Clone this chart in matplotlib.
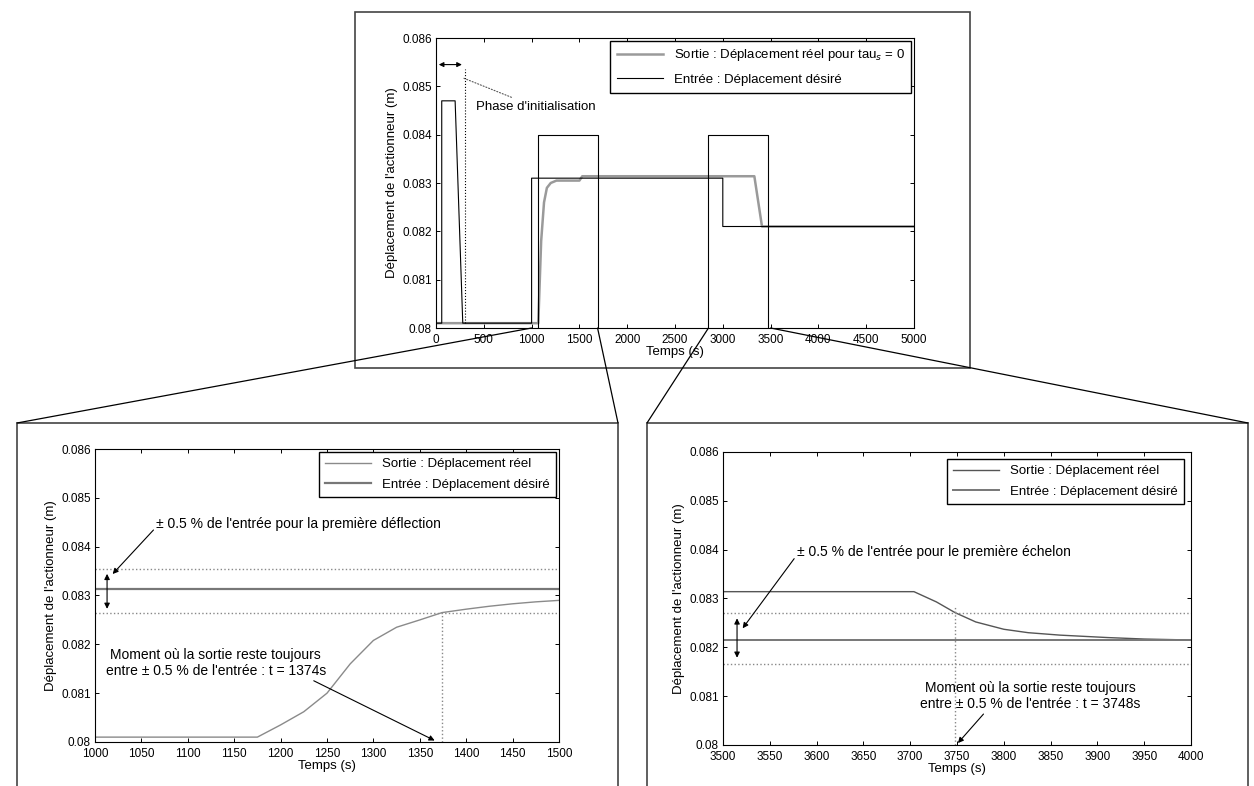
import numpy as np
import matplotlib.pyplot as plt
from matplotlib.patches import Rectangle, ConnectionPatch

plt.rcParams['font.family'] = ['Liberation Sans', 'DejaVu Sans']

# --- full simulation, tau_s = 0 ---
t_in_full = [0, 60, 60, 200, 280, 1000, 1000, 3000, 3000, 5000]
y_in_full = [0.0801, 0.0801, 0.0847, 0.0847, 0.0801, 0.0801, 0.0831, 0.0831, 0.0821, 0.0821]
t_out_full = [0, 1070, 1100, 1130, 1160, 1200, 1260, 1500, 1530, 3330, 3410, 5000]
y_out_full = [0.0801, 0.0801, 0.0818, 0.0826, 0.0829, 0.0830, 0.08305, 0.08305, 0.08314, 0.08314, 0.0821, 0.0821]
box1_t = [1070, 1070, 1690, 1690]
box2_t = [2850, 2850, 3475, 3475]
box_y = [0.080, 0.084, 0.084, 0.080]
t_init_end = 300

# --- first step (zoom 1000-1500 s) ---
t_step1 = [1000, 1175, 1200, 1225, 1250, 1275, 1300, 1325, 1350, 1374, 1400, 1425, 1450, 1475, 1500]
y_out1 = [0.08010, 0.08010, 0.08035, 0.08062, 0.08100, 0.08160, 0.08208, 0.08235, 0.08250, 0.08265,
          0.08272, 0.08278, 0.08283, 0.08287, 0.08290]
y_in1 = 0.08313
band1 = (0.08265, 0.08355)
t_settle1 = 1374

# --- second step (zoom 3500-4000 s) ---
t_step2 = [3500, 3704, 3728, 3748, 3770, 3800, 3826, 3860, 3911, 3950, 4000]
y_out2 = [0.08314, 0.08314, 0.08293, 0.08271, 0.08252, 0.08237, 0.08230, 0.08225, 0.08220, 0.08217, 0.08215]
y_in2 = 0.08215
band2 = (0.08165, 0.08270)
t_settle2 = 3748

yticks = [0.080, 0.081, 0.082, 0.083, 0.084, 0.085, 0.086]
ylab = "Déplacement de l'actionneur (m)"

W, H = 1254, 786
fig = plt.figure(figsize=(W / 100, H / 100), dpi=100)
fs_tick = 8.5
fs_lab = 9.5
fs_leg = 9.5
fs_txt = 10

arrow = dict(arrowstyle='-|>', color='black', lw=0.8, mutation_scale=8, shrinkA=0, shrinkB=0)
darrow = dict(arrowstyle='<|-|>', color='black', lw=0.8, mutation_scale=8)


def style(ax, xlim, xticks):
    ax.set_xlim(*xlim)
    ax.set_ylim(0.080, 0.086)
    ax.set_xticks(xticks)
    ax.set_yticks(yticks)
    ax.set_yticklabels(['%g' % v for v in yticks])
    ax.tick_params(direction='in', top=True, right=True, labelsize=fs_tick, length=3, width=0.7)
    ax.tick_params(axis='x', pad=4)
    ax.tick_params(axis='y', pad=3)
    for s in ax.spines.values():
        s.set_linewidth(0.8)
    ax.set_xlabel('Temps (s)', fontsize=fs_lab, labelpad=0)
    ax.set_ylabel(ylab, fontsize=fs_lab, labelpad=3)


def legend(ax, pad):
    ax.legend(loc='upper right', fontsize=fs_leg, fancybox=False, edgecolor='black', framealpha=1,
              handlelength=3.5, borderaxespad=pad, labelspacing=0.6, borderpad=0.5)


def fig_px(x, y):
    return (x / W, 1 - y / H)


# panel frames
for x0, y0, x1, y1 in [(355, 12, 970, 368), (17, 423, 618, 800), (647, 423, 1248, 800)]:
    fig.add_artist(Rectangle(fig_px(x0, y1), (x1 - x0) / W, (y1 - y0) / H, transform=fig.transFigure,
                             fill=False, edgecolor='#444444', lw=1.2))

# top panel
ax0 = fig.add_axes([436 / W, 1 - 328 / H, 478 / W, 290 / H])
ax0.plot(t_out_full, y_out_full, color='#9a9a9a', lw=1.8, label=r'Sortie : Déplacement réel pour tau$_s$ = 0')
ax0.plot(t_in_full, y_in_full, color='black', lw=0.8, label='Entrée : Déplacement désiré')
ax0.plot(box1_t, box_y, color='black', lw=0.8)
ax0.plot(box2_t, box_y, color='black', lw=0.8)
ax0.plot([t_init_end, t_init_end], [0.0801, 0.08535], color='black', lw=0.8, ls=':')
ax0.annotate('', xy=(0, 0.08545), xytext=(t_init_end, 0.08545),
             arrowprops=dict(darrow, mutation_scale=7))
ax0.annotate("Phase d'initialisation", xy=(250, 0.0852), xytext=(420, 0.08457), fontsize=fs_lab,
             va='center', ha='left',
             arrowprops=dict(arrowstyle='-', color='#555555', lw=0.8, ls=':'))
style(ax0, (0, 5000), range(0, 5001, 500))
ax0.legend(loc='upper right', fontsize=fs_leg, fancybox=False, edgecolor='black', framealpha=1,
           handlelength=3.5, borderaxespad=0.2, labelspacing=0.8, borderpad=0.5)

# bottom-left panel
ax1 = fig.add_axes([95 / W, 1 - 742 / H, 464 / W, 293 / H])
ax1.plot(t_step1, y_out1, color='#8a8a8a', lw=1.0, label='Sortie : Déplacement réel')
ax1.plot([1000, 1500], [y_in1, y_in1], color='#777777', lw=1.6, label='Entrée : Déplacement désiré')
for b in band1:
    ax1.plot([1000, 1500], [b, b], color='#888888', lw=1.0, ls=':')
ax1.plot([t_settle1, t_settle1], [0.080, band1[0]], color='#888888', lw=1.0, ls=':')
ax1.annotate('', xy=(1013, band1[1] - 0.00005), xytext=(1013, band1[0] + 0.00002), arrowprops=darrow)
ax1.annotate("± 0.5 % de l'entrée pour la première déflection", xy=(1019, 0.08344),
             xytext=(1066, 0.08446), fontsize=fs_txt, va='center', ha='left',
             arrowprops=dict(arrow, relpos=(0.0, 0.3)))
ax1.annotate(f"Moment où la sortie reste toujours\nentre ± 0.5 % de l'entrée : t = {t_settle1}s",
             xy=(1366, 0.08003), xytext=(1130, 0.08162), fontsize=fs_txt, ha='center', va='center',
             arrowprops=dict(arrow, relpos=(0.92, 0.0)))
style(ax1, (1000, 1500), range(1000, 1501, 50))
legend(ax1, 0.2)

# bottom-right panel
ax2 = fig.add_axes([723 / W, 1 - 745 / H, 468 / W, 293 / H])
ax2.plot(t_step2, y_out2, color='#555555', lw=1.0, label='Sortie : Déplacement réel')
ax2.plot([3500, 4000], [y_in2, y_in2], color='#777777', lw=1.4, label='Entrée : Déplacement désiré')
for b in band2:
    ax2.plot([3500, 4000], [b, b], color='#888888', lw=1.0, ls=':')
ax2.plot([t_settle2, t_settle2], [0.080, 0.08283], color='#888888', lw=1.0, ls=':')
ax2.annotate('', xy=(3515, band2[1] - 0.00005), xytext=(3515, band2[0] + 0.00008), arrowprops=darrow)
ax2.annotate("± 0.5 % de l'entrée pour le première échelon", xy=(3521, 0.08239),
             xytext=(3579, 0.08395), fontsize=fs_txt, va='center', ha='left',
             arrowprops=dict(arrow, relpos=(0.0, 0.3)))
ax2.annotate(f"Moment où la sortie reste toujours\nentre ± 0.5 % de l'entrée : t = {t_settle2}s",
             xy=(3751, 0.08004), xytext=(3828, 0.08100), fontsize=fs_txt, ha='center', va='center',
             arrowprops=dict(arrow, relpos=(0.3, 0.0)))
style(ax2, (3500, 4000), range(3500, 4001, 50))
legend(ax2, 0.5)

# connector lines from the overview to the two zooms
for t, (px, py) in [(1000, (17, 423)), (1690, (618, 423)), (2850, (647, 423)), (3500, (1248, 423))]:
    fig.add_artist(ConnectionPatch(xyA=(t, 0.080), coordsA=ax0.transData,
                                   xyB=fig_px(px, py), coordsB=fig.transFigure,
                                   color='black', lw=0.9))

fig.savefig('out.png', dpi=100)
